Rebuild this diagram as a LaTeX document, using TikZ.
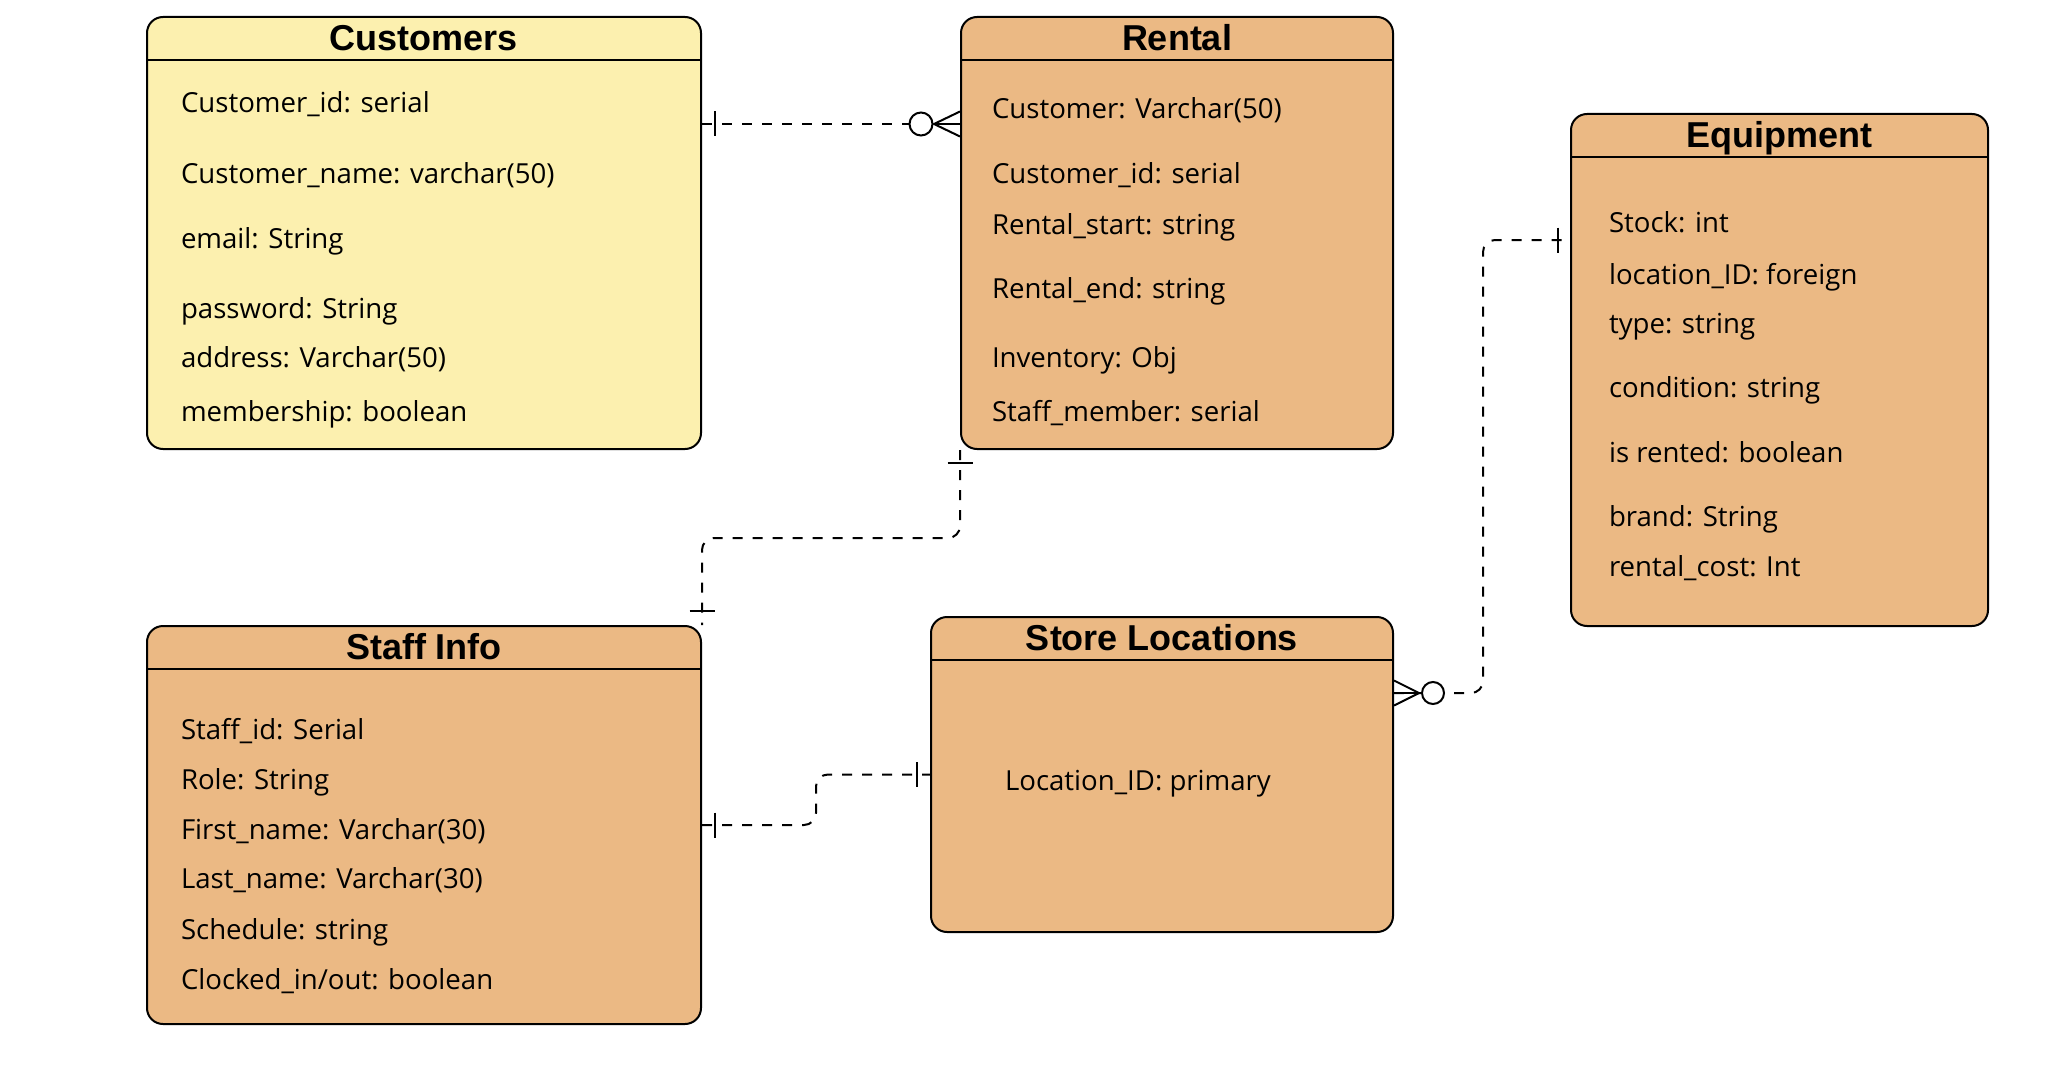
\documentclass[tikz,border=0pt]{standalone}
\usepackage{fontspec}
\setmainfont{Open Sans}
\newfontfamily\headfont{Liberation Sans}
\tikzset{every picture/.style={line width=2pt}}
\definecolor{cust-yellow}{RGB}{252,240,175}
\definecolor{ent-orange}{RGB}{235,185,132}

\begin{document}
\begin{tikzpicture}
    [x=1pt, y=-1pt,
    ent/.style = {rectangle, draw, fill=ent-orange, 
            inner sep=0pt, rounded corners=16pt},
    enthead/.style = {inner sep=0pt, text height=25pt, text depth=0pt,
            font={\headfont\bfseries\fontsize{36}{40}\selectfont}},
    attr/.style = {anchor=west, inner sep=0pt, text height=20pt, text depth=0pt,
            font={\fontsize{27.6}{32}\selectfont}},
    rel/.style = {dash pattern=on 10pt off 10pt, rounded corners=12pt},
    ]

\path[use as bounding box, fill=white] (0,0) rectangle (2052,1078);

\node[ent, minimum width=554pt, minimum height=432pt, fill=cust-yellow] (cust) at (424, 233) {};
\node[ent, minimum width=432pt, minimum height=432pt] (rent) at (1177, 233) {};
\node[ent, minimum width=417pt, minimum height=512pt] (equip) at (1779.5, 370) {};
\node[ent, minimum width=554pt, minimum height=398pt] (staff) at (424, 825) {};
\node[ent, minimum width=462pt, minimum height=315pt] (store) at (1162, 774.5) {};

\draw ([yshift=-44pt]cust.north west) -- ([yshift=-44pt]cust.north east);
\draw ([yshift=-44pt]rent.north west) -- ([yshift=-44pt]rent.north east);
\draw ([yshift=-44pt]equip.north west) -- ([yshift=-44pt]equip.north east);
\draw ([yshift=-44pt]staff.north west) -- ([yshift=-44pt]staff.north east);
\draw ([yshift=-44pt]store.north west) -- ([yshift=-44pt]store.north east);

\node[enthead] (cust-t) at ([yshift=-22pt]cust.north) {Customers};
\node[enthead] (rent-t) at ([yshift=-22pt]rent.north) {Rental};
\node[enthead] (equip-t) at ([yshift=-22pt]equip.north) {Equipment};
\node[enthead] (staff-t) at ([yshift=-22pt]staff.north) {Staff Info};
\node[enthead] (store-t) at ([yshift=-22pt]store.north) {Store Locations};

\node[attr] (cust-1) at (180, 103) {Customer\_id: serial};
\node[attr] (cust-2) at (180, 173) {Customer\_name: varchar(50)};
\node[attr] (cust-3) at (180, 238) {email: String};
\node[attr] (cust-4) at (180, 308) {password: String};
\node[attr] (cust-5) at (180, 357) {address: Varchar(50)};
\node[attr] (cust-6) at (180, 411) {membership: boolean};

\node[attr] (rent-1) at (991, 109) {Customer: Varchar(50)};
\node[attr] (rent-2) at (991, 173) {Customer\_id: serial};
\node[attr] (rent-3) at (991, 224) {Rental\_start: string};
\node[attr] (rent-4) at (991, 288) {Rental\_end: string};
\node[attr] (rent-5) at (991, 357) {Inventory: Obj};
\node[attr] (rent-6) at (991, 411) {Staff\_member: serial};

\node[attr] (equip-1) at (1608, 223) {Stock: int};
\node[attr] (equip-2) at (1608, 274) {location\_ID: foreign};
\node[attr] (equip-3) at (1608, 323) {type: string};
\node[attr] (equip-4) at (1608, 387) {condition: string};
\node[attr] (equip-5) at (1608, 452) {is rented: boolean};
\node[attr] (equip-6) at (1608, 516) {brand: String};
\node[attr] (equip-7) at (1608, 566) {rental\_cost: Int};

\node[attr] (staff-1) at (180, 729) {Staff\_id: Serial};
\node[attr] (staff-2) at (180, 779) {Role: String};
\node[attr] (staff-3) at (180, 829) {First\_name: Varchar(30)};
\node[attr] (staff-4) at (180, 878) {Last\_name: Varchar(30)};
\node[attr] (staff-5) at (180, 929) {Schedule: string};
\node[attr] (staff-6) at (180, 979) {Clocked\_in/out: boolean};

\node[attr] (store-1) at (1004, 780) {Location\_ID: primary};

% customers -- rental
\draw[rel] ([yshift=-108pt]cust.north east) -- ([yshift=-108pt]rent.north west);
\draw ([xshift=13pt, yshift=-108pt]cust.north east) ++(0,-12.5) -- ++(0,25);
\draw ([yshift=-108pt]rent.north west) ++(0,-12.5) -- ++(-26,12.5) -- ++(26,12.5);
\draw ([yshift=-108pt]rent.north west) -- ++(-26,0);
\draw[fill=white] ([xshift=-39pt, yshift=-108pt]rent.north west) circle[radius=11.5pt];

% rental -- staff
\draw[rel] (rent.south west) -- ++(0,88) -| (staff.north east);
\draw ([yshift=-13pt]rent.south west) ++(-12.5,0) -- ++(25,0);
\draw ([yshift=14pt]staff.north east) ++(-12.5,0) -- ++(25,0);

% staff -- store
\draw[rel] (staff.east) -- ++(114,0) |- (store.west);
\draw ([xshift=13pt]staff.east) ++(0,-12.5) -- ++(0,25);
\draw ([xshift=-13pt]store.west) ++(0,-12.5) -- ++(0,25);

% store -- equipment
\draw[rel] ([yshift=-77pt]store.north east) -- ++(89,0) |- ([yshift=-127pt]equip.north west);
\draw ([yshift=-77pt]store.north east) ++(0,-12.5) -- ++(25,12.5) -- ++(-25,12.5);
\draw ([yshift=-77pt]store.north east) -- ++(25,0);
\draw[fill=white] ([xshift=39pt, yshift=-77pt]store.north east) circle[radius=11pt];
\draw ([xshift=-12pt, yshift=-127pt]equip.north west) ++(0,-12.5) -- ++(0,25);

\end{tikzpicture}
\end{document}
